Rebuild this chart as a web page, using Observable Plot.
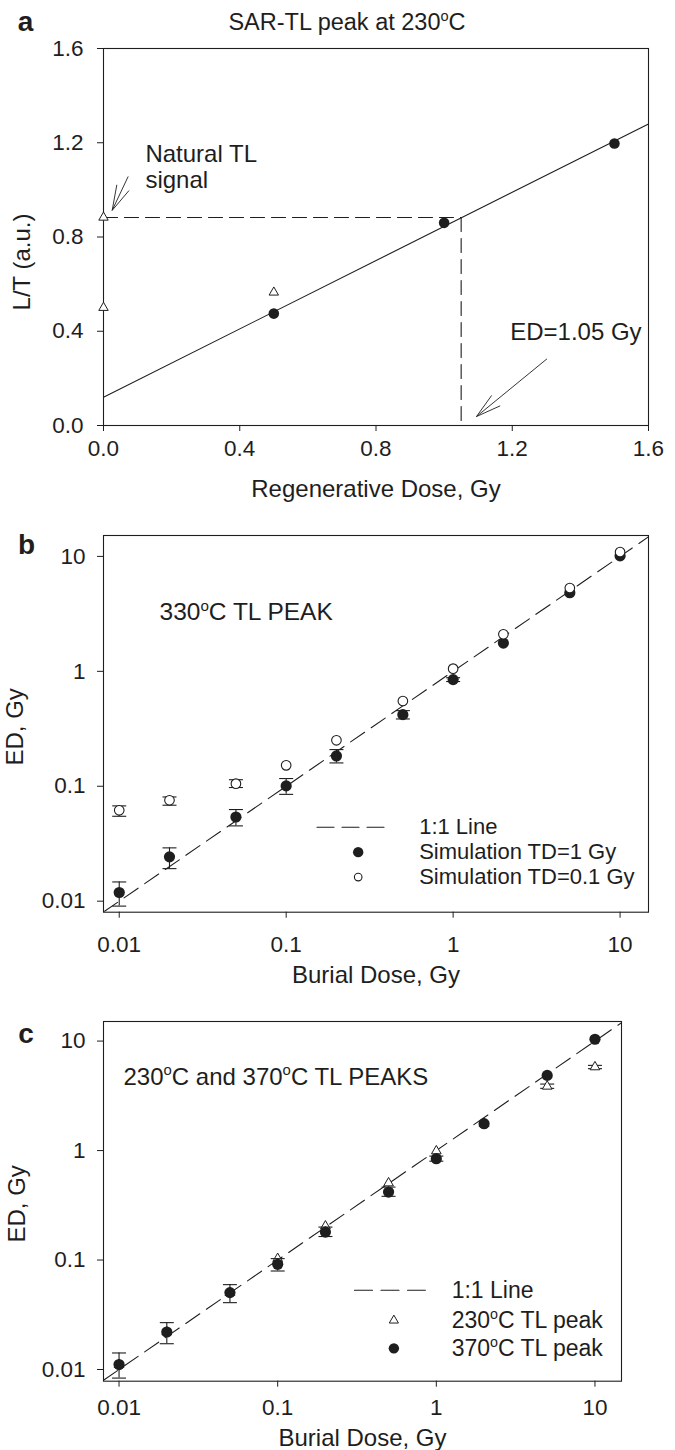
<!DOCTYPE html>
<html><head><meta charset="utf-8">
<script src="https://cdn.jsdelivr.net/npm/d3@7"></script>
<script src="https://cdn.jsdelivr.net/npm/@observablehq/plot@0.6"></script>
<style>
body{margin:0;background:#fff;width:675px;}
#chart svg{display:block;}
</style></head><body><div id="chart"></div>
<script>
// ---------- Panel a: SAR-TL growth curve ----------
const regenDose = [0.5, 1.0, 1.5];
const regenLT = [0.475, 0.86, 1.197];
const triDose = [0, 0, 0.5];
const triLT = [0.883, 0.50, 0.565];
const fitDose = [0, 1.6];
const fitLT = [0.12, 1.28];
const naturalLT = 0.883;
const edValue = 1.05;
const ticksA = [0, 0.4, 0.8, 1.2, 1.6];
// annotation arrows (tail -> tip), data units
const arrowTailX = [0.0725, 1.302];
const arrowTailY = [1.057, 0.283];
const arrowTipX = [0.0255, 1.095];
const arrowTipY = [0.913, 0.038];

// ---------- Panel b: 330°C peak ----------
const burialDose = [0.01, 0.02, 0.05, 0.1, 0.2, 0.5, 1, 2, 5, 10];
const edTD1 = [0.0119, 0.0243, 0.054, 0.1007, 0.1835, 0.42, 0.847, 1.76, 4.83, 10.1];
const edTD1Lo = [0.00906, 0.0192, 0.0452, 0.085, 0.1596, 0.385, 0.815, null, null, null];
const edTD1Hi = [0.0147, 0.0291, 0.0627, 0.1167, 0.2085, 0.455, 0.88, null, null, null];
const edTD01 = [0.0618, 0.0755, 0.1054, 0.152, 0.251, 0.552, 1.055, 2.10, 5.3, 10.9];
const edTD01Lo = [0.0548, 0.0684, 0.0975, null, null, null, null, null, null, null];
const edTD01Hi = [0.0675, 0.0807, 0.114, null, null, null, null, null, null, null];

// ---------- Panel c: 230°C and 370°C peaks ----------
const ed370 = [0.0111, 0.0220, 0.0504, 0.0914, 0.180, 0.418, 0.843, 1.76, 4.86, 10.4];
const ed370Lo = [0.00835, 0.0172, 0.0408, 0.0794, 0.164, 0.382, 0.80, null, null, null];
const ed370Hi = [0.01416, 0.0268, 0.0596, 0.103, 0.200, 0.464, 0.89, null, null, null];
const ed230 = [0.0111, 0.0220, 0.0504, 0.103, 0.204, 0.505, 0.99, 1.76, 3.86, 5.8];
const ed230Lo = [null, null, null, null, null, null, null, null, 3.7, 5.6];
const ed230Hi = [null, null, null, null, null, null, null, null, 4.05, 6.0];
const logTicks = [0.01, 0.1, 1, 10];

const FONT = "'Liberation Sans', Arial, Helvetica, sans-serif";
const INK = "#1e1e1e";
const ns = "http://www.w3.org/2000/svg";
const TICK_FS = 22.5, LABEL_FS = 24, NOTE_FS = 24, LEG_FS = 22;

const capSymbol = {draw(ctx, size){ const r = Math.sqrt(size/Math.PI); ctx.moveTo(-r,0); ctx.lineTo(r,0); }};

function rows(xs, ys){ return xs.map((x,i)=>({x, y: ys[i]})); }
function errRows(xs, lo, hi){
  return xs.map((x,i)=>({x, lo: lo[i], hi: hi[i]})).filter(d=>d.lo!=null && d.hi!=null);
}
function errorMarks(data){
  return [
    Plot.ruleX(data, {x:"x", y1:"lo", y2:"hi", stroke: INK, strokeWidth: 1.1}),
    Plot.dot(data, {x:"x", y:"lo", symbol: capSymbol, r: 7, stroke: INK, strokeWidth: 1.1, fill: "none"}),
    Plot.dot(data, {x:"x", y:"hi", symbol: capSymbol, r: 7, stroke: INK, strokeWidth: 1.1, fill: "none"})
  ];
}

function supDeg(svg){
  const els = [...svg.querySelectorAll("text,tspan")].filter(e=>[...e.childNodes].every(n=>n.nodeType===3) && e.textContent.includes("°"));
  for (const e of els){
    const fs = parseFloat(getComputedStyle(e).fontSize) || 20;
    const parts = e.textContent.split("°");
    e.textContent = "";
    e.appendChild(document.createTextNode(parts[0]));
    for (let i=1;i<parts.length;i++){
      const o = document.createElementNS(ns,"tspan");
      o.setAttribute("font-size", (fs*0.62)+"px");
      o.setAttribute("dy", (-fs*0.4)+"px");
      o.textContent = "o";
      e.appendChild(o);
      const r = document.createElementNS(ns,"tspan");
      r.setAttribute("dy", (fs*0.4)+"px");
      r.textContent = parts[i];
      e.appendChild(r);
    }
  }
}

const root = document.getElementById("chart");
const baseStyle = {fontFamily: FONT, fontSize: TICK_FS+"px", color: INK, background: "#fff", overflow: "visible"};

// ================= Panel a =================
{
  const W=675, H=500, mT=48, mB=75, mL=103, mR=27;
  const kx = (W-mL-mR)/1.6, ky = (H-mT-mB)/1.6;
  const shafts = arrowTailX.map((x,i)=>({x1:x, y1:arrowTailY[i], x2:arrowTipX[i], y2:arrowTipY[i]}));
  const barbs = [];
  for (const s of shafts){
    const dx = (s.x1-s.x2)*kx, dy = -(s.y1-s.y2)*ky;
    const a = Math.atan2(dy, dx), L = 26, h = 15*Math.PI/180;
    for (const sgn of [-1,1]){
      const bx = Math.cos(a+sgn*h)*L, by = Math.sin(a+sgn*h)*L;
      barbs.push({x1:s.x2, y1:s.y2, x2:s.x2+bx/kx, y2:s.y2-by/ky});
    }
  }
  const svg = Plot.plot({
    width: W, height: H, marginTop: mT, marginBottom: mB, marginLeft: mL, marginRight: mR,
    style: baseStyle,
    x: {domain: [0, 1.6]}, y: {domain: [0, 1.6]},
    marks: [
      Plot.frame({stroke: INK, strokeWidth: 1.1}),
      Plot.axisX({ticks: ticksA, tickFormat: d3.format(".1f"), tickSize: 6, tickPadding: 9, label: null, fontSize: TICK_FS}),
      Plot.axisY({ticks: ticksA, tickFormat: d3.format(".1f"), tickSize: 6, tickPadding: 14, label: null, fontSize: TICK_FS}),
      Plot.line(rows(fitDose, fitLT), {x:"x", y:"y", stroke: INK, strokeWidth: 1.1}),
      Plot.line([{x:0, y:naturalLT},{x:edValue, y:naturalLT}], {x:"x", y:"y", stroke: INK, strokeWidth: 1.1, strokeDasharray: "14,7"}),
      Plot.line([{x:edValue, y:naturalLT},{x:edValue, y:0}], {x:"x", y:"y", stroke: INK, strokeWidth: 1.1, strokeDasharray: "14,7"}),
      Plot.link(shafts, {x1:"x1", y1:"y1", x2:"x2", y2:"y2", stroke: INK, strokeWidth: 0.9}),
      Plot.link(barbs, {x1:"x1", y1:"y1", x2:"x2", y2:"y2", stroke: INK, strokeWidth: 0.9}),
      Plot.dot(rows(triDose, triLT), {x:"x", y:"y", symbol:"triangle", r: 3.5, fill:"#fff", stroke: INK, strokeWidth: 1}),
      Plot.dot(rows(regenDose, regenLT), {x:"x", y:"y", r: 5.3, fill: INK}),
      Plot.text([{x:0.123, y:1.097, t:"Natural TL\nsignal"}], {x:"x", y:"y", text:"t", textAnchor:"start", lineHeight: 1.08, fontSize: NOTE_FS, fill: INK}),
      Plot.text([{x:1.194, y:0.396, t:"ED=1.05 Gy"}], {x:"x", y:"y", text:"t", textAnchor:"start", fontSize: NOTE_FS, fill: INK}),
      Plot.text(["a"], {frameAnchor:"top-left", dx:-78, dy:-26, fontSize: 28, fontWeight:"bold", textAnchor:"middle", lineAnchor:"middle", fill: INK}),
      Plot.text(["SAR-TL peak at 230°C"], {frameAnchor:"top", dx:-29, dy:-26, fontSize: 23.5, textAnchor:"middle", lineAnchor:"middle", fill: INK}),
      Plot.text(["Regenerative Dose, Gy"], {frameAnchor:"bottom", dy: 64, fontSize: LABEL_FS, textAnchor:"middle", lineAnchor:"middle", fill: INK}),
      Plot.text(["L/T (a.u.)"], {frameAnchor:"left", dx:-81, dy: 25, rotate: -90, fontSize: LABEL_FS, textAnchor:"middle", lineAnchor:"middle", fill: INK})
    ]
  });
  root.appendChild(svg);
  supDeg(svg);
}

// ================= Panel b =================
{
  const W=675, H=490;
  const d = burialDose;
  const svg = Plot.plot({
    width: W, height: H, marginTop: 35, marginBottom: 78.3, marginLeft: 103, marginRight: 27,
    style: baseStyle,
    x: {type:"log", domain: [0.00805, 14.8]},
    y: {type:"log", domain: [0.00802, 15.2]},
    marks: [
      Plot.frame({stroke: INK, strokeWidth: 1.1}),
      Plot.axisX({ticks: logTicks, tickFormat: d=>String(d), tickSize: 6, tickPadding: 17.5, label: null, fontSize: TICK_FS}),
      Plot.axisY({ticks: logTicks, tickFormat: d=>String(d), tickSize: 6, tickPadding: 12, label: null, fontSize: TICK_FS}),
      Plot.line([{x:0.00805, y:0.00805},{x:14.8, y:14.8}], {x:"x", y:"y", stroke: INK, strokeWidth: 1.1, strokeDasharray: "17,8", clip: true}),
      ...errorMarks(errRows(d, edTD1Lo, edTD1Hi)),
      ...errorMarks(errRows(d, edTD01Lo, edTD01Hi)),
      Plot.dot(rows(d, edTD1), {x:"x", y:"y", r: 5.6, fill: INK}),
      Plot.dot(rows(d, edTD01), {x:"x", y:"y", r: 4.8, fill: "#fff", stroke: INK, strokeWidth: 1.1}),
      // legend
      Plot.line([{x:0.153, y:0.0440},{x:0.386, y:0.0440}], {x:"x", y:"y", stroke: INK, strokeWidth: 1.1, strokeDasharray: "17,8"}),
      Plot.dot([{x:0.270, y:0.0267}], {x:"x", y:"y", r: 5.2, fill: INK}),
      Plot.dot([{x:0.270, y:0.0162}], {x:"x", y:"y", r: 3.8, fill: "#fff", stroke: INK, strokeWidth: 1.1}),
      Plot.text([{x:0.626, y:0.0440, t:"1:1 Line"},{x:0.626, y:0.0267, t:"Simulation TD=1 Gy"},{x:0.626, y:0.0162, t:"Simulation TD=0.1 Gy"}], {x:"x", y:"y", text:"t", textAnchor:"start", fontSize: LEG_FS, fill: INK}),
      Plot.text(["330°C TL PEAK"], {frameAnchor:"top-left", dx: 56, dy: 77, fontSize: 24.5, textAnchor:"start", lineAnchor:"middle", fill: INK}),
      Plot.text(["b"], {frameAnchor:"top-left", dx:-77, dy:10, fontSize: 28, fontWeight:"bold", textAnchor:"middle", lineAnchor:"middle", fill: INK}),
      Plot.text(["Burial Dose, Gy"], {frameAnchor:"bottom", dy: 63.3, fontSize: LABEL_FS, textAnchor:"middle", lineAnchor:"middle", fill: INK}),
      Plot.text(["ED, Gy"], {frameAnchor:"left", dx:-88, dy: 3, rotate: -90, fontSize: LABEL_FS, textAnchor:"middle", lineAnchor:"middle", fill: INK})
    ]
  });
  root.appendChild(svg);
  supDeg(svg);
}

// ================= Panel c =================
{
  const W=675, H=460;
  const d = burialDose;
  const svg = Plot.plot({
    width: W, height: H, marginTop: 31, marginBottom: 69.3, marginLeft: 103, marginRight: 54,
    style: baseStyle,
    x: {type:"log", domain: [0.00798, 14.7]},
    y: {type:"log", domain: [0.00782, 15.1]},
    marks: [
      Plot.frame({stroke: INK, strokeWidth: 1.1}),
      Plot.axisX({ticks: logTicks, tickFormat: d=>String(d), tickSize: 6, tickPadding: 12, label: null, fontSize: TICK_FS}),
      Plot.axisY({ticks: logTicks, tickFormat: d=>String(d), tickSize: 6, tickPadding: 12, label: null, fontSize: TICK_FS}),
      Plot.line([{x:0.00798, y:0.00798},{x:14.7, y:14.7}], {x:"x", y:"y", stroke: INK, strokeWidth: 1.1, strokeDasharray: "17,8", clip: true}),
      ...errorMarks(errRows(d, ed230Lo, ed230Hi)),
      Plot.dot(rows(d, ed230), {x:"x", y:"y", symbol:"triangle", r: 3.6, fill:"#fff", stroke: INK, strokeWidth: 1}),
      ...errorMarks(errRows(d, ed370Lo, ed370Hi)),
      Plot.dot(rows(d, ed370), {x:"x", y:"y", r: 5.6, fill: INK}),
      // legend
      Plot.line([{x:0.305, y:0.0529},{x:0.853, y:0.0529}], {x:"x", y:"y", stroke: INK, strokeWidth: 1.1, strokeDasharray: "18,8.5"}),
      Plot.dot([{x:0.540, y:0.0281}], {x:"x", y:"y", symbol:"triangle", r: 3.4, fill:"#fff", stroke: INK, strokeWidth: 1}),
      Plot.dot([{x:0.540, y:0.0156}], {x:"x", y:"y", r: 5.2, fill: INK}),
      Plot.text([{x:1.249, y:0.0529, t:"1:1 Line"},{x:1.249, y:0.0281, t:"230°C TL peak"},{x:1.249, y:0.0156, t:"370°C TL peak"}], {x:"x", y:"y", text:"t", textAnchor:"start", fontSize: 23, fill: INK}),
      Plot.text(["230°C and 370°C TL PEAKS"], {frameAnchor:"top-left", dx: 20, dy: 55.7, fontSize: 24, textAnchor:"start", lineAnchor:"middle", fill: INK}),
      Plot.text(["c"], {frameAnchor:"top-left", dx:-77.5, dy:13, fontSize: 28, fontWeight:"bold", textAnchor:"middle", lineAnchor:"middle", fill: INK}),
      Plot.text(["Burial Dose, Gy"], {frameAnchor:"bottom", dy: 57.3, fontSize: LABEL_FS, textAnchor:"middle", lineAnchor:"middle", fill: INK}),
      Plot.text(["ED, Gy"], {frameAnchor:"left", dx:-86, dy: 2.5, rotate: -90, fontSize: LABEL_FS, textAnchor:"middle", lineAnchor:"middle", fill: INK})
    ]
  });
  root.appendChild(svg);
  supDeg(svg);
}
</script></body></html>
